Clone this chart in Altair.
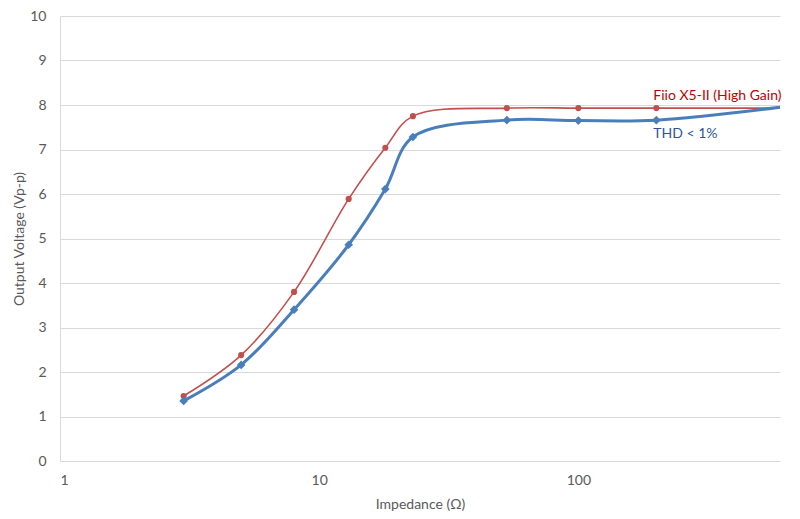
import altair as alt
import pandas as pd

impedance = [3, 5, 8, 13, 18, 23, 53, 100, 200, 600]
fiio_high = [1.46, 2.38, 3.80, 5.89, 7.04, 7.75, 7.93, 7.93, 7.93, 7.93]
thd_1pct = [1.35, 2.16, 3.40, 4.86, 6.11, 7.28, 7.66, 7.65, 7.66, 7.95]
marker_upto = 200

red = "#C0504D"
blue = "#4A7EBB"
FONT = "Lato"

df_r = pd.DataFrame({"x": impedance, "y": fiio_high})
df_b = pd.DataFrame({"x": impedance, "y": thd_1pct})

xs = alt.Scale(type="log", domain=[1, 600], nice=False)
ys = alt.Scale(domain=[0, 10], nice=False)

xax = alt.Axis(values=[1, 10, 100], title="Impedance (Ω)", grid=False, ticks=False,
               domain=False, labelPadding=12, titlePadding=10, format="~g")
yax = alt.Axis(values=list(range(0, 11)), title="Output Voltage (Vp-p)", grid=True,
               ticks=False, domain=True, labelPadding=14, titlePadding=3)

X = alt.X("x:Q", scale=xs, axis=xax)
Y = alt.Y("y:Q", scale=ys, axis=yax)

line_r = alt.Chart(df_r).mark_line(color=red, strokeWidth=1.6, interpolate="catmull-rom").encode(x=X, y=Y)
line_b = alt.Chart(df_b).mark_line(color=blue, strokeWidth=3, interpolate="catmull-rom").encode(
    x=alt.X("x:Q", scale=xs), y=alt.Y("y:Q", scale=ys))
pts_r = alt.Chart(df_r).transform_filter(alt.datum.x <= marker_upto).mark_point(
    shape="circle", filled=True, color=red, size=38, opacity=1).encode(
    x=alt.X("x:Q", scale=xs), y=alt.Y("y:Q", scale=ys))
pts_b = alt.Chart(df_b).transform_filter(alt.datum.x <= marker_upto).mark_point(
    shape="diamond", filled=True, color=blue, size=75, opacity=1).encode(
    x=alt.X("x:Q", scale=xs), y=alt.Y("y:Q", scale=ys))

lab_df = pd.DataFrame({"x": [200, 200], "y": [8.2, 7.35],
                       "t": ["Fiio X5-II (High Gain)", "THD < 1%"],
                       "c": ["#C00000", "#2F5597"]})
labels = alt.Chart(lab_df).mark_text(align="left", baseline="middle", fontSize=14, font=FONT,
                                     dx=-3).encode(
    x=alt.X("x:Q", scale=xs), y=alt.Y("y:Q", scale=ys), text="t:N",
    color=alt.Color("c:N", scale=None))

chart = alt.layer(line_r, line_b, pts_r, pts_b, labels).properties(
    width=720, height=445,
    autosize=alt.AutoSizeParams(type="none"),
    padding={"left": 52, "top": 8, "right": 10, "bottom": 56},
).configure_view(stroke=None).configure_axis(
    labelFont=FONT, titleFont=FONT, labelFontSize=14, titleFontSize=14,
    labelColor="#595959", titleColor="#595959", titleFontWeight="normal",
    gridColor="#D9D9D9", domainColor="#D9D9D9", gridWidth=1,
)

chart.save("out.html", embed_options={"renderer": "svg", "actions": False})
